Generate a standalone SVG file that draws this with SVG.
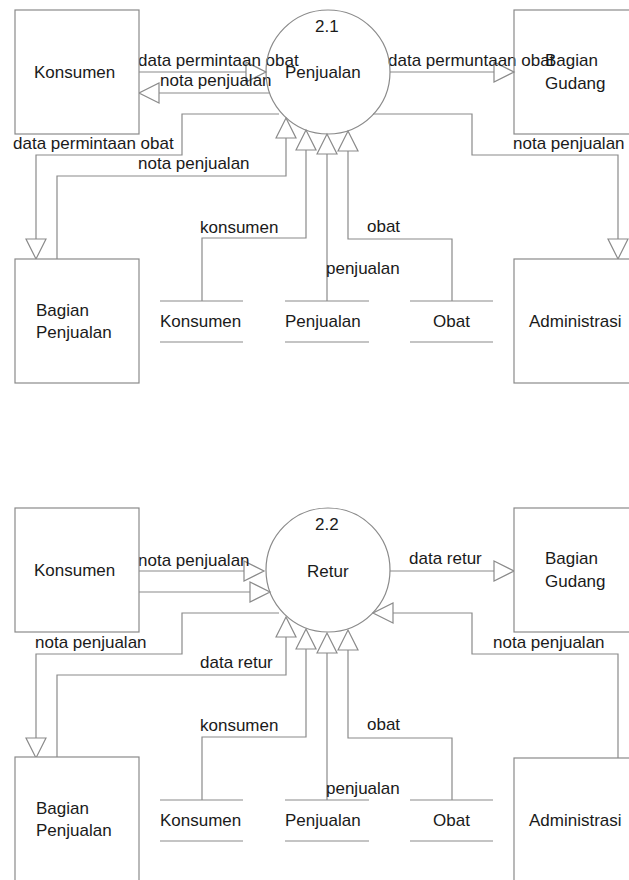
<svg xmlns="http://www.w3.org/2000/svg" xmlns:xlink="http://www.w3.org/1999/xlink" width="629" height="880" viewBox="0 0 629 880">
  <style>
    .box { fill: #ffffff; stroke: #8a8a8a; stroke-width: 1.2; }
    .proc { fill: #ffffff; stroke: #8a8a8a; stroke-width: 1.2; }
    .store { stroke: #8a8a8a; stroke-width: 1.2; }
    .flow { fill: none; stroke: #8a8a8a; stroke-width: 1.2; }
    .head { fill: #ffffff; stroke: #8a8a8a; stroke-width: 1.2; }
    text { font-family: "Liberation Sans", Arial, sans-serif; font-size: 17px; fill: #1a1a1a; }
  </style>
  <defs>
    <!-- open arrowhead, tip at origin, pointing along +x -->
    <polygon id="tri" points="-20,-10 0,0 -20,10" class="head"/>
  </defs>
  <rect width="629" height="880" fill="#ffffff"/>

  <!-- ===== Diagram 2.1 Penjualan ===== -->
  <g id="flows-21">
    <!-- Konsumen -> Penjualan : data permintaan obat -->
    <path class="flow" d="M139,72 H246"/>
    <use xlink:href="#tri" transform="translate(266,72)"/>
    <!-- Penjualan -> Konsumen : nota penjualan -->
    <path class="flow" d="M269,93 H159"/>
    <use xlink:href="#tri" transform="translate(139,93) rotate(180)"/>
    <!-- Penjualan -> Bagian Gudang -->
    <path class="flow" d="M390,72 H494"/>
    <use xlink:href="#tri" transform="translate(514,72)"/>
    <!-- Penjualan -> Bagian Penjualan -->
    <path class="flow" d="M279,114 H182 V155 H36 V239"/>
    <use xlink:href="#tri" transform="translate(36,259) rotate(90)"/>
    <!-- Bagian Penjualan -> Penjualan -->
    <path class="flow" d="M57,259 V176 H286 V138"/>
    <use xlink:href="#tri" transform="translate(286,118) rotate(-90)"/>
    <!-- Konsumen store -> Penjualan -->
    <path class="flow" d="M202,301 V238 H306 V150"/>
    <use xlink:href="#tri" transform="translate(306,130) rotate(-90)"/>
    <!-- Penjualan store -> Penjualan -->
    <path class="flow" d="M327,301 V154"/>
    <use xlink:href="#tri" transform="translate(327,134) rotate(-90)"/>
    <!-- Obat store -> Penjualan -->
    <path class="flow" d="M452,301 V239 H348 V151"/>
    <use xlink:href="#tri" transform="translate(348,131) rotate(-90)"/>
    <!-- Penjualan -> Administrasi -->
    <path class="flow" d="M373,114 H472 V155 H618 V239"/>
    <use xlink:href="#tri" transform="translate(618,259) rotate(90)"/>
  </g>
  <g id="labels-21">
    <text x="138" y="66">data permintaan obat</text>
    <text x="160" y="86">nota penjualan</text>
    <text x="388" y="66">data permuntaan obat</text>
    <text x="13" y="149">data permintaan obat</text>
    <text x="138" y="169">nota penjualan</text>
    <text x="513" y="149">nota penjualan</text>
    <text x="200" y="233">konsumen</text>
    <text x="367" y="232">obat</text>
    <text x="326" y="274">penjualan</text>
  </g>
  <g id="konsumen-21">
    <rect class="box" x="15" y="10" width="124" height="124"/>
    <text x="34" y="78">Konsumen</text>
  </g>
  <g id="proses-21">
    <circle class="proc" cx="328" cy="72" r="62" fill-opacity="0"/>
    <text x="315" y="32">2.1</text>
    <text x="285" y="78">Penjualan</text>
  </g>
  <g id="gudang-21">
    <rect class="box" x="514" y="10" width="124" height="124" fill-opacity="0"/>
    <text x="545" y="66">Bagian</text>
    <text x="545" y="89">Gudang</text>
  </g>
  <g id="bagpenjualan-21">
    <rect class="box" x="15" y="259" width="124" height="124"/>
    <text x="36" y="316">Bagian</text>
    <text x="36" y="338">Penjualan</text>
  </g>
  <g id="store-konsumen-21">
    <line class="store" x1="160" y1="301" x2="243" y2="301"/>
    <line class="store" x1="160" y1="342" x2="243" y2="342"/>
    <text x="160" y="327">Konsumen</text>
  </g>
  <g id="store-penjualan-21">
    <line class="store" x1="285" y1="301" x2="369" y2="301"/>
    <line class="store" x1="285" y1="342" x2="369" y2="342"/>
    <text x="285" y="327">Penjualan</text>
  </g>
  <g id="store-obat-21">
    <line class="store" x1="410" y1="301" x2="493" y2="301"/>
    <line class="store" x1="410" y1="342" x2="493" y2="342"/>
    <text x="433" y="327">Obat</text>
  </g>
  <g id="administrasi-21">
    <rect class="box" x="514" y="259" width="124" height="124"/>
    <text x="529" y="327">Administrasi</text>
  </g>

  <!-- ===== Diagram 2.2 Retur ===== -->
  <g id="flows-22">
    <!-- Konsumen -> Retur : nota penjualan -->
    <path class="flow" d="M139,571 H244"/>
    <use xlink:href="#tri" transform="translate(264,571)"/>
    <!-- Konsumen -> Retur (second flow) -->
    <path class="flow" d="M139,592 H250"/>
    <use xlink:href="#tri" transform="translate(270,592)"/>
    <!-- Retur -> Bagian Gudang : data retur -->
    <path class="flow" d="M390,571 H494"/>
    <use xlink:href="#tri" transform="translate(514,571)"/>
    <!-- Retur -> Bagian Penjualan : nota penjualan -->
    <path class="flow" d="M279,613 H182 V654 H36 V738"/>
    <use xlink:href="#tri" transform="translate(36,758) rotate(90)"/>
    <!-- Bagian Penjualan -> Retur : data retur -->
    <path class="flow" d="M57,758 V675 H286 V637"/>
    <use xlink:href="#tri" transform="translate(286,617) rotate(-90)"/>
    <!-- Konsumen store -> Retur -->
    <path class="flow" d="M202,800 V737 H306 V649"/>
    <use xlink:href="#tri" transform="translate(306,629) rotate(-90)"/>
    <!-- Penjualan store -> Retur -->
    <path class="flow" d="M327,800 V653"/>
    <use xlink:href="#tri" transform="translate(327,633) rotate(-90)"/>
    <!-- Obat store -> Retur -->
    <path class="flow" d="M452,800 V738 H348 V650"/>
    <use xlink:href="#tri" transform="translate(348,630) rotate(-90)"/>
    <!-- Administrasi -> Retur : nota penjualan -->
    <path class="flow" d="M618,758 V654 H472 V613 H393"/>
    <use xlink:href="#tri" transform="translate(373,613) rotate(180)"/>
  </g>
  <g id="labels-22">
    <text x="138" y="566">nota penjualan</text>
    <text x="409" y="564">data retur</text>
    <text x="35" y="648">nota penjualan</text>
    <text x="200" y="668">data retur</text>
    <text x="493" y="648">nota penjualan</text>
    <text x="200" y="731">konsumen</text>
    <text x="367" y="730">obat</text>
    <text x="326" y="794">penjualan</text>
  </g>
  <g id="konsumen-22">
    <rect class="box" x="15" y="508" width="124" height="124"/>
    <text x="34" y="576">Konsumen</text>
  </g>
  <g id="proses-22">
    <circle class="proc" cx="328" cy="570" r="62" fill-opacity="0"/>
    <text x="315" y="530">2.2</text>
    <text x="307" y="577">Retur</text>
  </g>
  <g id="gudang-22">
    <rect class="box" x="514" y="508" width="124" height="124"/>
    <text x="545" y="564">Bagian</text>
    <text x="545" y="587">Gudang</text>
  </g>
  <g id="bagpenjualan-22">
    <rect class="box" x="15" y="757" width="124" height="124"/>
    <text x="36" y="814">Bagian</text>
    <text x="36" y="836">Penjualan</text>
  </g>
  <g id="store-konsumen-22">
    <line class="store" x1="160" y1="800" x2="243" y2="800"/>
    <line class="store" x1="160" y1="841" x2="243" y2="841"/>
    <text x="160" y="826">Konsumen</text>
  </g>
  <g id="store-penjualan-22">
    <line class="store" x1="285" y1="800" x2="369" y2="800"/>
    <line class="store" x1="285" y1="841" x2="369" y2="841"/>
    <text x="285" y="826">Penjualan</text>
  </g>
  <g id="store-obat-22">
    <line class="store" x1="410" y1="800" x2="493" y2="800"/>
    <line class="store" x1="410" y1="841" x2="493" y2="841"/>
    <text x="433" y="826">Obat</text>
  </g>
  <g id="administrasi-22">
    <rect class="box" x="514" y="758" width="124" height="124"/>
    <text x="529" y="826">Administrasi</text>
  </g>
</svg>
